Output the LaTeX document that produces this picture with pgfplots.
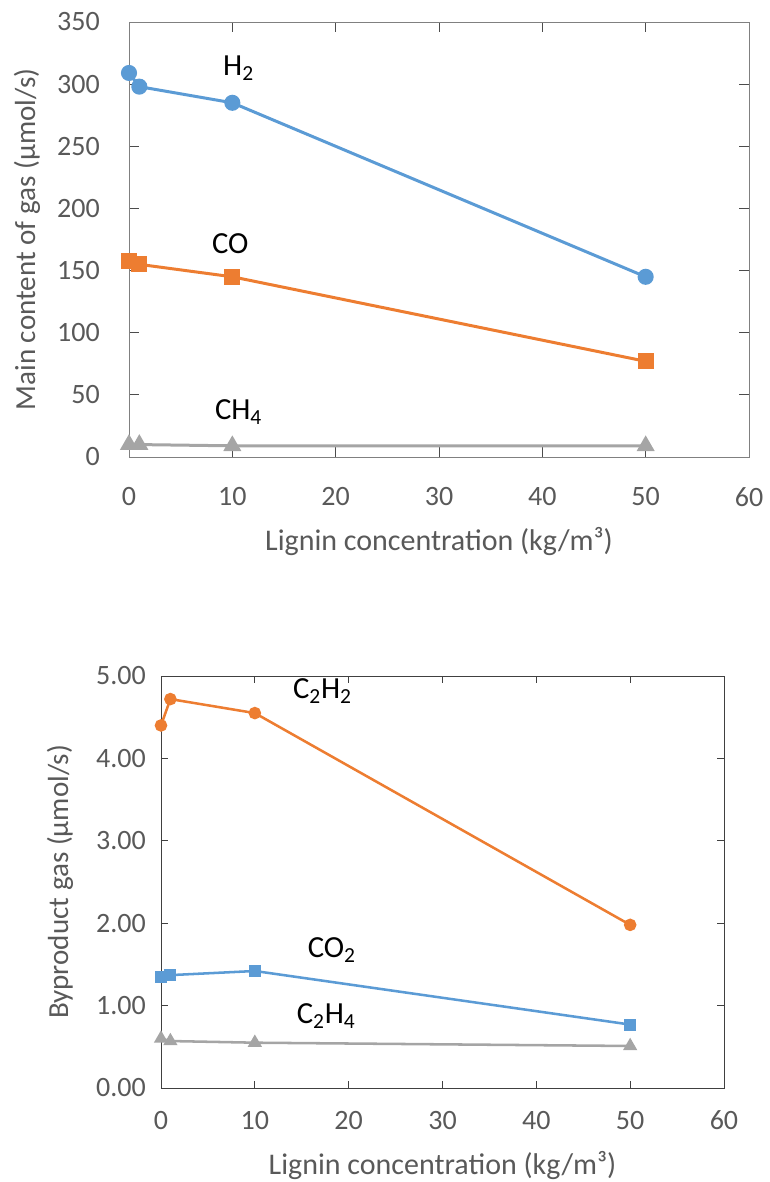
\documentclass[border=0pt]{standalone}
\usepackage{fontspec}
\setmainfont{Carlito}
\usepackage{pgfplots}
\pgfplotsset{compat=1.18}

\definecolor{xlblue}{HTML}{5B9BD5}
\definecolor{xlorange}{HTML}{ED7D31}
\definecolor{xlgray}{HTML}{A5A5A5}
\definecolor{ticktext}{HTML}{595959}

\pgfplotsset{
  excel/.style={
    scale only axis,
    anchor=south west,
    xmin=0, xmax=60, xtick={0,10,...,60},
    tick align=inside,
    ticklabel style={font=\fontsize{21}{25}\selectfont, text=ticktext, inner sep=0pt},
    /pgf/number format/assume math mode=true,
  },
}

\begin{document}
\begin{tikzpicture}
\useasboundingbox (0,0) rectangle (576.75pt,-886.5pt);

% top chart: main gas components
\begin{axis}[excel,
    at={(96.75pt,-342.75pt)},
    width=465pt, height=326.25pt,
    ymin=0, ymax=350, ytick={0,50,...,350},
    axis line style={draw=black!50},
    major tick style={draw=black!70, line width=0.6pt},
    major tick length=7.5pt,
    xticklabel style={anchor=center, yshift=-30pt},
    yticklabel style={anchor=east, xshift=-21.75pt},
    xlabel={Lignin concentration (kg/m³)},
    ylabel={Main content of gas (µmol/s)},
    every axis x label/.style={at={(rel axis cs:0.5,0)}, yshift=-63pt, anchor=center,
      font=\fontsize{22.5}{26}\selectfont, text=ticktext},
    every axis y label/.style={at={(rel axis cs:0,0.5)}, xshift=-76.5pt, rotate=90,
      anchor=center, font=\fontsize{21.8}{26}\selectfont, text=ticktext},
    clip=false]
  \addplot[color=xlblue, line width=2.25pt, mark=*, mark size=4.9pt]
    coordinates {(0,309) (1,298) (10,285) (50,145)};
  \addplot[color=xlorange, line width=2.25pt, mark=square*, mark size=4.9pt]
    coordinates {(0,158) (1,155) (10,145) (50,77)};
  \addplot[color=xlgray, line width=2.25pt, mark=triangle*, mark size=5.6pt]
    coordinates {(0,10) (1,10) (10,9) (50,9)};
  \node[font=\fontsize{23}{27}\selectfont] at (axis cs:10.6,313) {H\textsubscript{2}};
  \node[font=\fontsize{23}{27}\selectfont] at (axis cs:9.8,172) {CO};
  \node[font=\fontsize{23}{27}\selectfont] at (axis cs:10.6,36) {CH\textsubscript{4}};
\end{axis}

% bottom chart: byproduct gases
\begin{axis}[excel,
    at={(120.75pt,-816pt)},
    width=422.25pt, height=309pt,
    ymin=0, ymax=5, ytick={0,1,...,5},
    y tick label style={/pgf/number format/fixed, /pgf/number format/fixed zerofill,
      /pgf/number format/precision=2},
    axis line style={draw=black!75},
    major tick style={draw=black!75, line width=0.6pt},
    major tick length=5pt,
    xticklabel style={anchor=center, yshift=-24pt},
    yticklabel style={anchor=east, xshift=-11.25pt},
    xlabel={Lignin concentration (kg/m³)},
    ylabel={Byproduct gas (µmol/s)},
    every axis x label/.style={at={(rel axis cs:0.5,0)}, yshift=-57.75pt, anchor=center,
      font=\fontsize{22.5}{26}\selectfont, text=ticktext},
    every axis y label/.style={at={(rel axis cs:0,0.5)}, xshift=-75.75pt, rotate=90,
      anchor=center, font=\fontsize{21.8}{26}\selectfont, text=ticktext},
    clip=false]
  \addplot[color=xlorange, line width=1.9pt, mark=*, mark size=3.75pt]
    coordinates {(0,4.40) (1,4.72) (10,4.55) (50,1.98)};
  \addplot[color=xlblue, line width=1.9pt, mark=square*, mark size=3.6pt]
    coordinates {(0,1.35) (1,1.37) (10,1.42) (50,0.77)};
  \addplot[color=xlgray, line width=1.9pt, mark=triangle*, mark size=4.3pt]
    coordinates {(0,0.60) (1,0.57) (10,0.55) (50,0.51)};
  \node[font=\fontsize{23}{27}\selectfont] at (axis cs:17.2,4.82) {C\textsubscript{2}H\textsubscript{2}};
  \node[font=\fontsize{23}{27}\selectfont] at (axis cs:18.2,1.67) {CO\textsubscript{2}};
  \node[font=\fontsize{23}{27}\selectfont] at (axis cs:17.6,0.87) {C\textsubscript{2}H\textsubscript{4}};
\end{axis}
\end{tikzpicture}
\end{document}
